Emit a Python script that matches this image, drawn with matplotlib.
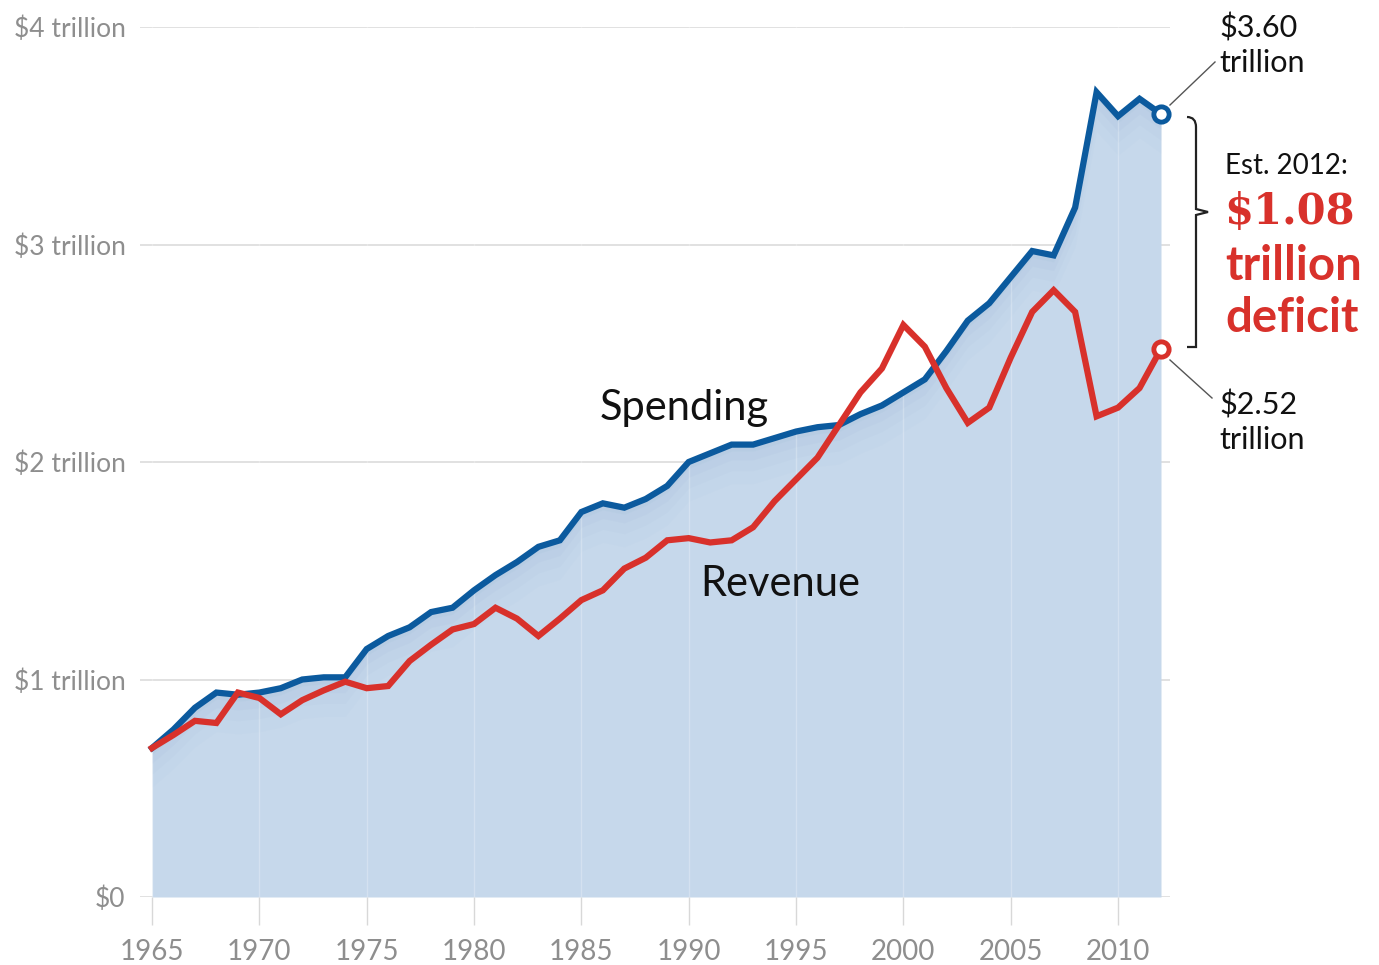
import numpy as np
import matplotlib
matplotlib.use("Agg")
import matplotlib.pyplot as plt
from matplotlib.path import Path
from matplotlib.patches import PathPatch

# federal spending and revenue, trillions of (constant) dollars
years = list(range(1965, 2013))
spending = [0.685, 0.77, 0.87, 0.94, 0.93, 0.94, 0.96, 1.00, 1.01, 1.01,
            1.14, 1.20, 1.24, 1.31, 1.33, 1.41, 1.48, 1.54, 1.61, 1.64,
            1.77, 1.81, 1.79, 1.83, 1.89, 2.00, 2.04, 2.08, 2.08, 2.11,
            2.14, 2.16, 2.17, 2.22, 2.26, 2.32, 2.38, 2.51, 2.65, 2.73,
            2.85, 2.97, 2.95, 3.17, 3.70, 3.59, 3.67, 3.60]
revenue = [0.685, 0.745, 0.81, 0.80, 0.94, 0.915, 0.84, 0.905, 0.95, 0.99,
           0.96, 0.97, 1.085, 1.16, 1.23, 1.255, 1.33, 1.28, 1.20, 1.28,
           1.365, 1.41, 1.51, 1.56, 1.64, 1.65, 1.63, 1.64, 1.70, 1.82,
           1.92, 2.02, 2.17, 2.32, 2.43, 2.63, 2.53, 2.34, 2.18, 2.25,
           2.48, 2.69, 2.79, 2.69, 2.21, 2.25, 2.34, 2.52]
ytick_vals = [0, 1, 2, 3, 4]
ytick_labels = ["$0", "$1 trillion", "$2 trillion", "$3 trillion", "$4 trillion"]
xtick_vals = list(range(1965, 2011, 5))

BLUE = "#0b5a9e"
RED = "#d8312b"
FILL = "#c6d8eb"
GREY = "#8e8e8e"

fig = plt.figure(figsize=(13.79, 9.65), dpi=100)
ax = fig.add_axes([140 / 1379, 68 / 965, 1030 / 1379, 870 / 965])
ax.set_xlim(1965 - 12 / 21.47, 2012 + 9 / 21.47)
ax.set_ylim(0, 4)

x = np.array(years)
s = np.array(spending)
r = np.array(revenue)

ax.fill_between(x, 0, s, color=FILL, lw=0, zorder=1)
# soft shadow under the spending line
for k, a in zip([0.03, 0.07, 0.12, 0.18], [0.10, 0.08, 0.06, 0.04]):
    ax.fill_between(x, np.maximum(s - k, 0), s, color="#8fb0d2", alpha=a, lw=0, zorder=1.1)
for xv in xtick_vals:
    ax.plot([xv, xv], [0, 4], color="white", lw=1, alpha=0.25, zorder=1.2)

for yv in ytick_vals:
    ax.axhline(yv, color="#dcdcdc", lw=1.2, zorder=0.5)

ax.plot(x, s, color=BLUE, lw=4.5, solid_joinstyle="miter", zorder=3)
ax.plot(x, r, color=RED, lw=4.5, solid_joinstyle="miter", zorder=3)
ax.plot(x[-1], s[-1], "o", ms=11, mfc="white", mec=BLUE, mew=3.5, zorder=5, clip_on=False)
ax.plot(x[-1], r[-1], "o", ms=11, mfc="white", mec=RED, mew=3.5, zorder=5, clip_on=False)

for side in ["top", "right", "left", "bottom"]:
    ax.spines[side].set_visible(False)

ax.set_yticks(ytick_vals)
ax.set_yticklabels(ytick_labels, fontfamily="Lato", fontsize=19, color=GREY)
ax.tick_params(axis="y", length=0, pad=10.5)
ax.set_xticks(xtick_vals)
ax.set_xticklabels([str(v) for v in xtick_vals], fontfamily="Lato", fontsize=20, color=GREY)
ax.tick_params(axis="x", length=20, width=1, color="#d8d8d8", pad=10)

ax.text(1989.8, 2.25, "Spending", fontfamily="Lato", fontsize=30, color="#111111", ha="center", va="center")
ax.text(1994.25, 1.44, "Revenue", fontfamily="Lato", fontsize=30, color="#111111", ha="center", va="center")

# right-hand annotations (figure pixel coordinates)
def fx(px):
    return px / 1379

def fy(py):
    return 1 - py / 965

tf = fig.transFigure
fig.text(fx(1219), fy(28), "$3.60", fontfamily="Lato", fontsize=22, color="#111111", va="center")
fig.text(fx(1219), fy(63), "trillion", fontfamily="Lato", fontsize=22, color="#111111", va="center")
fig.text(fx(1219), fy(405), "$2.52", fontfamily="Lato", fontsize=22, color="#111111", va="center")
fig.text(fx(1219), fy(440), "trillion", fontfamily="Lato", fontsize=22, color="#111111", va="center")
fig.lines.append(plt.Line2D([fx(1170), fx(1215)], [fy(105), fy(62)], transform=tf, color="#555555", lw=1))
fig.lines.append(plt.Line2D([fx(1170), fx(1212)], [fy(360), fy(398)], transform=tf, color="#555555", lw=1))

fig.text(fx(1225), fy(166), "Est. 2012:", fontfamily="Lato", fontsize=20, color="#111111", va="center")
fig.text(fx(1224), fy(212), "$1.08", fontfamily="DejaVu Serif", fontweight="bold", fontsize=30, color=RED, va="center")
fig.text(fx(1225), fy(266), "trillion", fontfamily="Lato", fontweight="bold", fontsize=34, color=RED, va="center")
fig.text(fx(1225), fy(318), "deficit", fontfamily="Lato", fontweight="bold", fontsize=34, color=RED, va="center")

# curly brace between the two end points
top, bot, mid = 117, 347, 212
bx, tipx = 1196, 1208
verts = [(1187, top), (1196, top), (1196, top + 10), (bx, top + 20),
         (bx, mid - 20), (bx, mid - 6), (bx, mid - 3), (tipx, mid),
         (bx, mid + 3), (bx, mid + 6), (bx, mid + 20),
         (bx, bot - 20), (1196, bot - 10), (1196, bot), (1187, bot)]
codes = [Path.MOVETO, Path.CURVE3, Path.CURVE3, Path.LINETO,
         Path.LINETO, Path.CURVE3, Path.CURVE3, Path.LINETO,
         Path.LINETO, Path.CURVE3, Path.CURVE3,
         Path.LINETO, Path.CURVE3, Path.CURVE3, Path.LINETO]
verts = [(fx(a), fy(b)) for a, b in verts]
brace = PathPatch(Path(verts, codes), transform=tf, fill=False, ec="#222222", lw=1.6)
fig.patches.append(brace)

fig.savefig("out.png", dpi=100)
